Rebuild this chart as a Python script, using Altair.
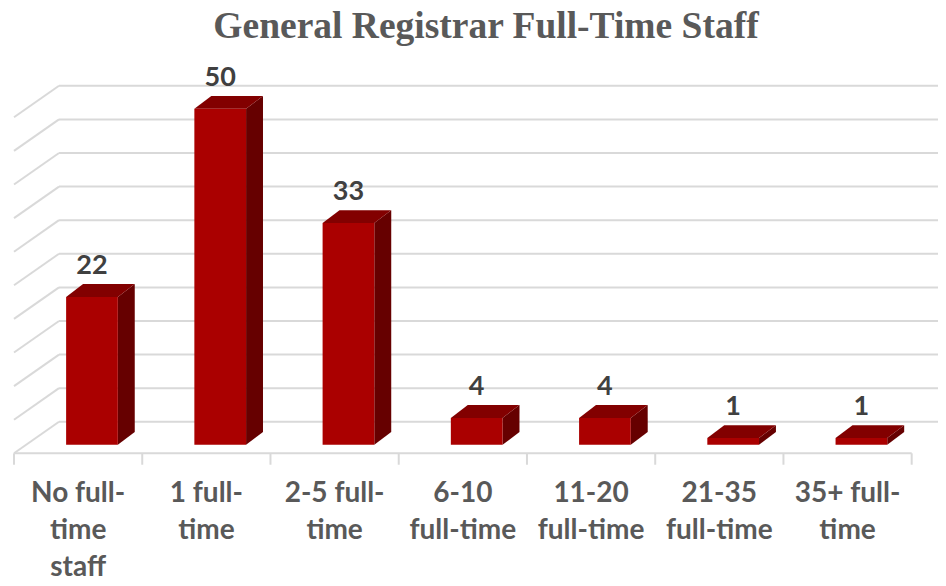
import altair as alt
import pandas as pd

# ---- data ----
title_text = ["General Registrar Full-Time Staff"]
categories = ["No full-time staff", "1 full-time", "2-5 full-time", "6-10 full-time",
              "11-20 full-time", "21-35 full-time", "35+ full-time"]
label_lines = ["No full-\ntime\nstaff", "1 full-\ntime", "2-5 full-\ntime", "6-10\nfull-time",
               "11-20\nfull-time", "21-35\nfull-time", "35+ full-\ntime"]
values = [22, 50, 33, 4, 4, 1, 1]
grid_values = [0, 5, 10, 15, 20, 25, 30, 35, 40, 45, 50]
tick_positions = [0, 1, 2, 3, 4, 5, 6, 7]

# ---- layout / 3-D projection constants (category units on x, value units on y) ----
X_MIN, X_MAX = -0.0468, 7.2052
Y_MIN, Y_MAX = -18.557, 66.265
DEPTH_X, DEPTH_Y = 0.351, 4.69      # full floor depth (oblique projection)
BAR_SHIFT = 0.608                   # bar front centre inside its category
BAR_HALF = 0.2016                   # half width of the front face
BAR_BASE = 1.26                     # front face bottom (depth offset)
BAR_DX, BAR_DY = 0.132, 1.92        # bar depth
FRONT, TOP, SIDE = "#AA0000", "#820000", "#660000"
GRID = "#D9D9D9"

W, H = 930, 570

xs = alt.Scale(domain=[X_MIN, X_MAX], nice=False, zero=False)
ys = alt.Scale(domain=[Y_MIN, Y_MAX], nice=False, zero=False)

bars = pd.DataFrame({"i": range(len(categories)), "category": categories,
                     "label": label_lines, "value": values})
bars["xc"] = bars["i"] + BAR_SHIFT
bars["xl"] = bars["xc"] - BAR_HALF
bars["xr"] = bars["xc"] + BAR_HALF
bars["yb"] = BAR_BASE
bars["yt"] = bars["value"] + BAR_BASE
bars["xcat"] = bars["i"] + 0.5

side_rows, top_rows = [], []
for r in bars.to_dict("records"):
    c = r["category"]
    xl, xr, yb, yt = r["xl"], r["xr"], r["yb"], r["yt"]
    side_rows += [
        {"bar": c, "x": xr, "y": yb, "y2": yt},
        {"bar": c, "x": xr + BAR_DX, "y": yb + BAR_DY, "y2": yt + BAR_DY},
    ]
    top_rows += [
        {"bar": c, "x": xl, "y": yt, "y2": yt},
        {"bar": c, "x": xl + BAR_DX, "y": yt, "y2": yt + BAR_DY},
        {"bar": c, "x": xr, "y": yt, "y2": yt + BAR_DY},
        {"bar": c, "x": xr + BAR_DX, "y": yt + BAR_DY, "y2": yt + BAR_DY},
    ]
side_df = pd.DataFrame(side_rows)
top_df = pd.DataFrame(top_rows)

grid_df = pd.DataFrame({"v": grid_values})
grid_df["x0"] = 0.0
grid_df["xb"] = DEPTH_X
grid_df["yb"] = grid_df["v"] + DEPTH_Y

floor_df = pd.DataFrame({"x0": [tick_positions[0]], "x1": [tick_positions[-1]], "y": [0.0]})
ticks_df = pd.DataFrame({"t": tick_positions})
ticks_df["y"] = 0.0
ticks_df["y2"] = -1.7

back_grid = alt.Chart(grid_df).mark_rule(color=GRID, strokeWidth=2).encode(
    x=alt.X("xb:Q", scale=xs, axis=None), x2=alt.value(W),
    y=alt.Y("yb:Q", scale=ys, axis=None))
wall_grid = alt.Chart(grid_df).mark_rule(color=GRID, strokeWidth=2).encode(
    x=alt.X("x0:Q", scale=xs, axis=None), x2="xb:Q",
    y=alt.Y("v:Q", scale=ys, axis=None), y2="yb:Q")
floor = alt.Chart(floor_df).mark_rule(color=GRID, strokeWidth=2).encode(
    x=alt.X("x0:Q", scale=xs, axis=None), x2="x1:Q",
    y=alt.Y("y:Q", scale=ys, axis=None))
ticks = alt.Chart(ticks_df).mark_rule(color=GRID, strokeWidth=2).encode(
    x=alt.X("t:Q", scale=xs, axis=None),
    y=alt.Y("y:Q", scale=ys, axis=None), y2="y2:Q")

side = alt.Chart(side_df).mark_area(color=SIDE, opacity=1).encode(
    x=alt.X("x:Q", scale=xs, axis=None),
    y=alt.Y("y:Q", scale=ys, axis=None, stack=None), y2="y2:Q",
    detail="bar:N")
top = alt.Chart(top_df).mark_area(color=TOP, opacity=1).encode(
    x=alt.X("x:Q", scale=xs, axis=None),
    y=alt.Y("y:Q", scale=ys, axis=None, stack=None), y2="y2:Q",
    detail="bar:N")
front = alt.Chart(bars).mark_rect(color=FRONT).encode(
    x=alt.X("xl:Q", scale=xs, axis=None), x2="xr:Q",
    y=alt.Y("yb:Q", scale=ys, axis=None), y2="yt:Q")

value_labels = alt.Chart(bars).mark_text(
    font="Lato", fontSize=27, fontWeight="bold", color="#404040",
    baseline="alphabetic", align="center", dy=-23).encode(
    x=alt.X("xc:Q", scale=xs, axis=None),
    y=alt.Y("yt:Q", scale=ys, axis=None),
    text="value:Q")

cat_labels = alt.Chart(bars).mark_text(
    font="Lato", fontSize=28, fontWeight="bold", color="#595959",
    baseline="alphabetic", align="center", lineBreak="\n", lineHeight=37).encode(
    x=alt.X("xcat:Q", scale=xs, axis=None),
    y=alt.value(494),
    text="label:N")

title = alt.Chart(pd.DataFrame({"t": title_text})).mark_text(
    font="Liberation Serif", fontSize=37.5, fontWeight="bold", color="#595959",
    baseline="alphabetic", align="center").encode(
    x=alt.value(478), y=alt.value(29.5), text="t:N")

chart = alt.layer(back_grid, wall_grid, floor, ticks, side, top, front,
                  value_labels, cat_labels, title).properties(
    width=W, height=H,
    autosize=alt.AutoSizeParams(type="none"),
    padding=0,
).configure_view(strokeWidth=0)

chart.save("out.html", embed_options={"renderer": "svg", "actions": False})
